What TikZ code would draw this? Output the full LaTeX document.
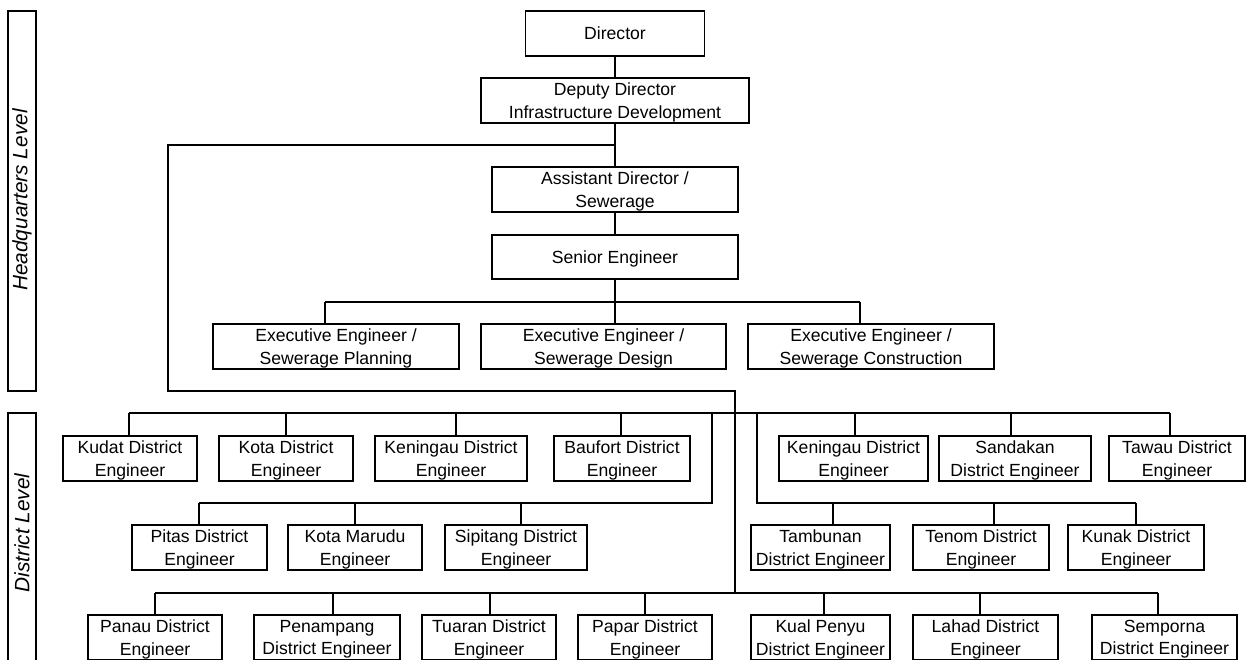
\documentclass[tikz,border=0pt]{standalone}
\usepackage{fontspec}
\setmainfont{Liberation Sans}
\begin{document}
\begin{tikzpicture}[x=1pt,y=-1pt,
  post/.style={draw, line width=1.1pt, align=center, inner sep=0pt,
    minimum height=45pt, text depth=0pt,
    font=\fontsize{17.6}{22.6}\selectfont},
  tier/.style={draw, line width=1.1pt, minimum width=28pt, inner sep=0pt},
  tiertext/.style={rotate=90, inner sep=0pt, font=\fontsize{20.8}{24}\selectfont\itshape},
  link/.style={line width=1.1pt}]
\clip (0,0) rectangle (1247,659);
\fill[white] (0,0) rectangle (1247,659);

% ---- level bands on the left ----
\node[tier, minimum height=380pt] (hqband) at (22,201) {};
\node[tiertext] (hqtext) at (22,200) {Headquarters Level};
\node[tier, minimum height=256pt] (dband) at (22,541) {};
\node[tiertext] (dtext) at (22,533) {District Level};

% ---- headquarters ----
\node[post, minimum width=179pt] (dir)  at (615,33.5) {Director};
\node[post, minimum width=268pt] (dep)  at (615,100.5) {Deputy Director\\Infrastructure Development};
\node[post, minimum width=246pt] (asst) at (615,189.5) {Assistant Director /\\Sewerage};
\node[post, minimum width=246pt, minimum height=44pt] (sen) at (615,257) {Senior Engineer};
\node[post, minimum width=246pt] (ex1) at (336,346.5) {Executive Engineer /\\Sewerage Planning};
\node[post, minimum width=245pt] (ex2) at (603.5,346.5) {Executive Engineer /\\Sewerage Design};
\node[post, minimum width=246pt] (ex3) at (871,346.5) {Executive Engineer /\\Sewerage Construction};

% ---- district offices, first row ----
\node[post, minimum width=134pt] (kudat) at (130,458.5) {Kudat District\\Engineer};
\node[post, minimum width=134pt] (kota)  at (286,458.5) {Kota District\\Engineer};
\node[post, minimum width=152pt] (kenA)  at (451,458.5) {Keningau District\\Engineer};
\node[post, minimum width=136pt] (bau)   at (622,458.5) {Baufort District\\Engineer};
\node[post, minimum width=149pt] (kenB)  at (853.5,458.5) {Keningau District\\Engineer};
\node[post, minimum width=152pt] (sand)  at (1015,458.5) {Sandakan\\District Engineer};
\node[post, minimum width=136pt] (tawau) at (1177,458.5) {Tawau District\\Engineer};

% ---- second row ----
\node[post, minimum width=135pt] (pitas) at (199.5,547.5) {Pitas District\\Engineer};
\node[post, minimum width=134pt] (kmar)  at (355,547.5) {Kota Marudu\\Engineer};
\node[post, minimum width=142pt] (sip)   at (516,547.5) {Sipitang District\\Engineer};
\node[post, minimum width=139pt] (tamb)  at (820.5,547.5) {Tambunan\\District Engineer};
\node[post, minimum width=136pt] (tenom) at (981,547.5) {Tenom District\\Engineer};
\node[post, minimum width=136pt] (kunak) at (1136,547.5) {Kunak District\\Engineer};

% ---- third row ----
\node[post, minimum width=134pt] (panau)  at (155,637.5) {Panau District\\Engineer};
\node[post, minimum width=146pt] (penam)  at (327,637.5) {Penampang\\District Engineer};
\node[post, minimum width=134pt] (tuaran) at (489,637.5) {Tuaran District\\Engineer};
\node[post, minimum width=134pt] (papar)  at (645,637.5) {Papar District\\Engineer};
\node[post, minimum width=139pt] (kual)   at (820.5,637.5) {Kual Penyu\\District Engineer};
\node[post, minimum width=145pt] (lahad)  at (985.5,637.5) {Lahad District\\Engineer};
\node[post, minimum width=145pt] (semp)   at (1164.5,637.5) {Semporna\\District Engineer};

% ---- headquarters chain ----
\draw[link] (dir.south) -- (dep.north);
\draw[link] (dep.south) -- (asst.north);
\draw[link] (asst.south) -- (sen.north);

% loop from the deputy director down to the district trunk
\coordinate (tee) at (615,145);
\coordinate (loopcorner) at (168,391);
\coordinate (trunkend) at (735,594);
\draw[link] (tee) -| (loopcorner) -| (trunkend);

% executive engineers
\coordinate (exbus) at (615,302);
\coordinate (exL) at (325,302);
\coordinate (exR) at (860,302);
\draw[link] (sen.south) -- (exbus);
\draw[link] (exL) -- (exR);
\foreach \c/\n in {exL/ex1, exbus/ex2, exR/ex3}
  \draw[link] (\c) -- (\c |- \n.north);

% first district row
\coordinate (rA) at (129,413);
\coordinate (rB) at (1170,413);
\draw[link] (rA) -- (rB);
\foreach \x/\n in {129/kudat, 286/kota, 456/kenA, 621/bau, 855/kenB, 1011/sand, 1170/tawau}{
  \coordinate (d-\n) at (\x,413);
  \draw[link] (d-\n) -- (d-\n |- \n.north);
}

% second district row, left and right groups
\coordinate (lTop) at (712,413);
\coordinate (lCorner) at (712,503);
\coordinate (lEnd) at (199,503);
\draw[link] (lTop) -- (lCorner) -- (lEnd);
\coordinate (rTop) at (757,413);
\coordinate (rCorner) at (757,503);
\coordinate (rEnd) at (1136,503);
\draw[link] (rTop) -- (rCorner) -- (rEnd);
\foreach \x/\n in {199/pitas, 355/kmar, 521/sip, 833/tamb, 994/tenom, 1136/kunak}{
  \coordinate (d-\n) at (\x,503);
  \draw[link] (d-\n) -- (d-\n |- \n.north);
}

% third district row
\coordinate (tA) at (155,593);
\coordinate (tB) at (1158,593);
\draw[link] (tA) -- (tB);
\foreach \x/\n in {155/panau, 333/penam, 490/tuaran, 645/papar, 824/kual, 980/lahad, 1158/semp}{
  \coordinate (d-\n) at (\x,593);
  \draw[link] (d-\n) -- (d-\n |- \n.north);
}
\end{tikzpicture}
\end{document}
